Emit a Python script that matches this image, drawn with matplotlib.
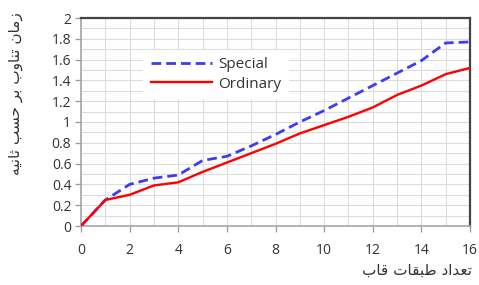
import matplotlib
matplotlib.use("Agg")
import matplotlib.pyplot as plt
from matplotlib.ticker import MultipleLocator

floors = list(range(0, 17))
special = [0, 0.25, 0.40, 0.46, 0.49, 0.63, 0.67, 0.77, 0.88, 1.00, 1.11, 1.23, 1.35, 1.47, 1.59, 1.76, 1.77]
ordinary = [0, 0.25, 0.30, 0.39, 0.42, 0.52, 0.61, 0.70, 0.79, 0.89, 0.97, 1.05, 1.14, 1.26, 1.35, 1.46, 1.52]
series_names = ["Special", "Ordinary"]

# Persian labels written in contextual presentation forms, visual (left-to-right) order
xlabel_logical = "\uFE97\uFECC\uFEAA\uFE8D\uFEA9 \uFEC3\uFE92\uFED8\uFE8E\uFE95 \uFED7\uFE8E\uFE8F"  # تعداد طبقات قاب
ylabel_logical = "\uFEAF\uFEE3\uFE8E\uFEE5 \uFE97\uFEE8\uFE8E\uFEED\uFE8F \uFE91\uFEAE \uFEA3\uFEB4\uFE90 \uFE9B\uFE8E\uFEE7\uFEF4\uFEEA"  # زمان تناوب بر حسب ثانیه
xlabel = xlabel_logical[::-1]
ylabel = ylabel_logical[::-1]

plt.rcParams['font.family'] = ['Open Sans', 'DejaVu Sans']

fig = plt.figure(figsize=(4.79, 2.85), dpi=100)
ax = fig.add_axes([81/479, 59/285, 389/479, 208/285])

ax.plot(floors, special, color='#3c3cf0', lw=2.0, dashes=(3.5, 1.8), label=series_names[0], zorder=3)
ax.plot(floors, ordinary, color='#ff0000', lw=1.7, label=series_names[1], zorder=4)

ax.set_xlim(0, 16)
ax.set_ylim(0, 2)
ax.xaxis.set_major_locator(MultipleLocator(2))
ax.xaxis.set_minor_locator(MultipleLocator(1))
ax.yaxis.set_major_locator(MultipleLocator(0.2))
ax.yaxis.set_minor_locator(MultipleLocator(0.1))
ax.yaxis.set_major_formatter(matplotlib.ticker.FuncFormatter(lambda v, p: f"{v:g}"))

ax.grid(True, which='both', color='#dcdcdc', lw=0.8, zorder=0)
ax.set_axisbelow(True)
ax.tick_params(which='major', length=4, width=1, color='#a0a0a0', labelsize=10, labelcolor='#333333', pad=3)
ax.tick_params(axis='x', which='major', pad=8)
ax.tick_params(which='minor', length=0)

for s in ['left', 'bottom']:
    ax.spines[s].set_color('#a6a6a6')
    ax.spines[s].set_linewidth(1.2)
for s in ['top', 'right']:
    ax.spines[s].set_color('#444444')
    ax.spines[s].set_linewidth(1.6)

leg = ax.legend(loc='upper left', bbox_to_anchor=(0.14, 0.885), frameon=True, fancybox=False,
                handlelength=4.0, fontsize=11, borderpad=0.5, labelspacing=0.3, handletextpad=0.4)
leg.get_frame().set_facecolor('white')
leg.get_frame().set_edgecolor('none')
leg.get_frame().set_alpha(1)
for t in leg.get_texts():
    t.set_color('#333333')

fig.text(472/479, 1 - 270/285, xlabel, ha='right', va='center', fontsize=11, color='#333333',
         family=['DejaVu Sans'])
fig.text(16/479, 1 - 12/285, ylabel, ha='center', va='top', rotation=90, fontsize=11, color='#333333',
         family=['DejaVu Sans'])

fig.savefig('out.png', dpi=100)
